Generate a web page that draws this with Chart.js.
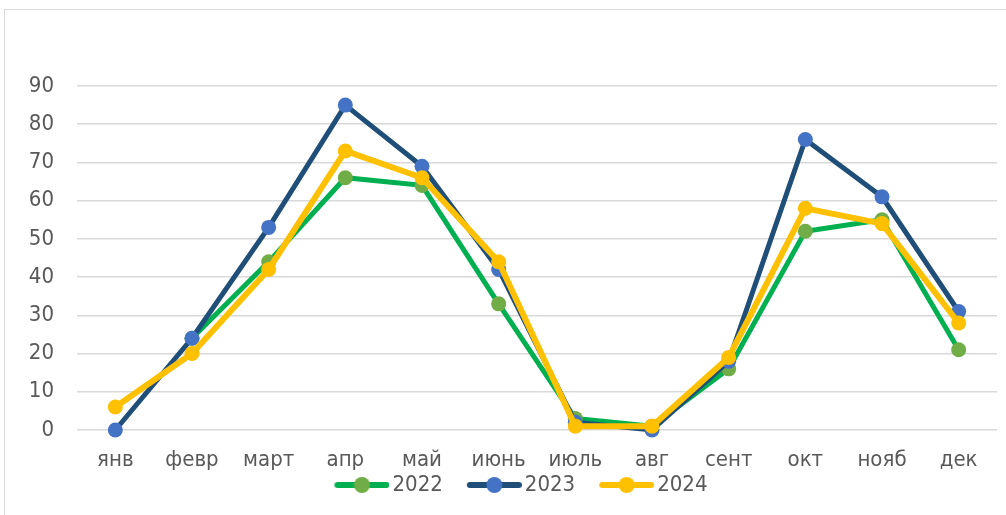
<!DOCTYPE html>
<html>
<head>
<meta charset="utf-8">
<script src="https://cdn.jsdelivr.net/npm/chart.js@4.4.1/dist/chart.umd.min.js"></script>
<style>
  html, body { margin: 0; padding: 0; background: #fff; overflow: hidden; }
  #frame { position: absolute; left: 4px; top: 9px; width: 1100px; height: 600px; border: 1px solid #d9d9d9; }
  #chart { position: absolute; left: 0; top: 0; }
</style>
</head>
<body>
<div id="frame"></div>
<canvas id="chart" width="1006" height="515"></canvas>
<script>
const months = ['янв', 'февр', 'март', 'апр', 'май', 'июнь', 'июль', 'авг', 'сент', 'окт', 'нояб', 'дек'];
const data2022 = [null, 24, 44, 66, 64, 33, 3, 1, 16, 52, 55, 21];
const data2023 = [0, 24, 53, 85, 69, 42, 2, 0, 18, 76, 61, 31];
const data2024 = [6, 20, 42, 73, 66, 44, 1, 1, 19, 58, 54, 28];

const FONT = "'Liberation Sans Narrow', 'DejaVu Sans Condensed', 'Arial Narrow', sans-serif";
const textColor = '#595959';

// legend symbol: short line with a marker in the middle (drawn in the right part of the image)
function legendIcon(lineColor, dotColor) {
  const c = document.createElement('canvas');
  c.width = 87; c.height = 18;
  const g = c.getContext('2d');
  g.strokeStyle = lineColor;
  g.lineWidth = 6;
  g.lineCap = 'round';
  g.beginPath();
  g.moveTo(35, 9); g.lineTo(84, 9);
  g.stroke();
  g.fillStyle = dotColor;
  g.beginPath();
  g.arc(59.5, 9, 8, 0, Math.PI * 2);
  g.fill();
  return c;
}

function series(label, values, lineColor, dotColor, width, order) {
  return {
    label: label,
    data: values,
    order: order,
    clip: false,
    borderColor: lineColor,
    backgroundColor: dotColor,
    borderWidth: width,
    pointRadius: 7.5,
    pointHoverRadius: 7.5,
    pointBackgroundColor: dotColor,
    pointBorderColor: dotColor,
    pointBorderWidth: 0,
    pointStyle: 'circle',
    tension: 0,
    fill: false,
    legendIcon: legendIcon(lineColor, dotColor)
  };
}

new Chart(document.getElementById('chart'), {
  type: 'line',
  data: {
    labels: months,
    datasets: [
      series('2022', data2022, '#00b050', '#70ad47', 5, 3),
      series('2023', data2023, '#1f4e79', '#4472c4', 5, 2),
      series('2024', data2024, '#ffc000', '#ffc000', 6, 1)
    ]
  },
  options: {
    responsive: false,
    animation: false,
    spanGaps: false,
    layout: { padding: { top: 86, right: 9, left: 21, bottom: 9 } },
    plugins: {
      tooltip: { enabled: false },
      legend: {
        position: 'bottom',
        labels: {
          usePointStyle: true,
          pointStyleWidth: 71,
          padding: 0,
          color: textColor,
          font: { family: FONT, size: 22 },
          generateLabels: (chart) => chart.data.datasets.map((ds, i) => ({
            text: ds.label,
            pointStyle: ds.legendIcon,
            fillStyle: ds.backgroundColor,
            strokeStyle: ds.borderColor,
            lineWidth: 0,
            fontColor: textColor,
            datasetIndex: i,
            hidden: false
          }))
        }
      }
    },
    scales: {
      x: {
        offset: true,
        grid: { display: false, drawTicks: false },
        border: { display: false },
        ticks: { color: textColor, font: { family: FONT, size: 22 }, padding: 17, maxRotation: 0, autoSkip: false },
        afterFit: (s) => { s.height = 44; }
      },
      y: {
        min: 0,
        max: 90,
        grid: { color: '#d9d9d9', lineWidth: 1.5, drawTicks: false },
        border: { display: false },
        ticks: { stepSize: 10, color: textColor, font: { family: FONT, size: 22 }, padding: 23 },
        afterFit: (s) => { s.width = 56; }
      }
    }
  }
});
</script>
</body>
</html>
